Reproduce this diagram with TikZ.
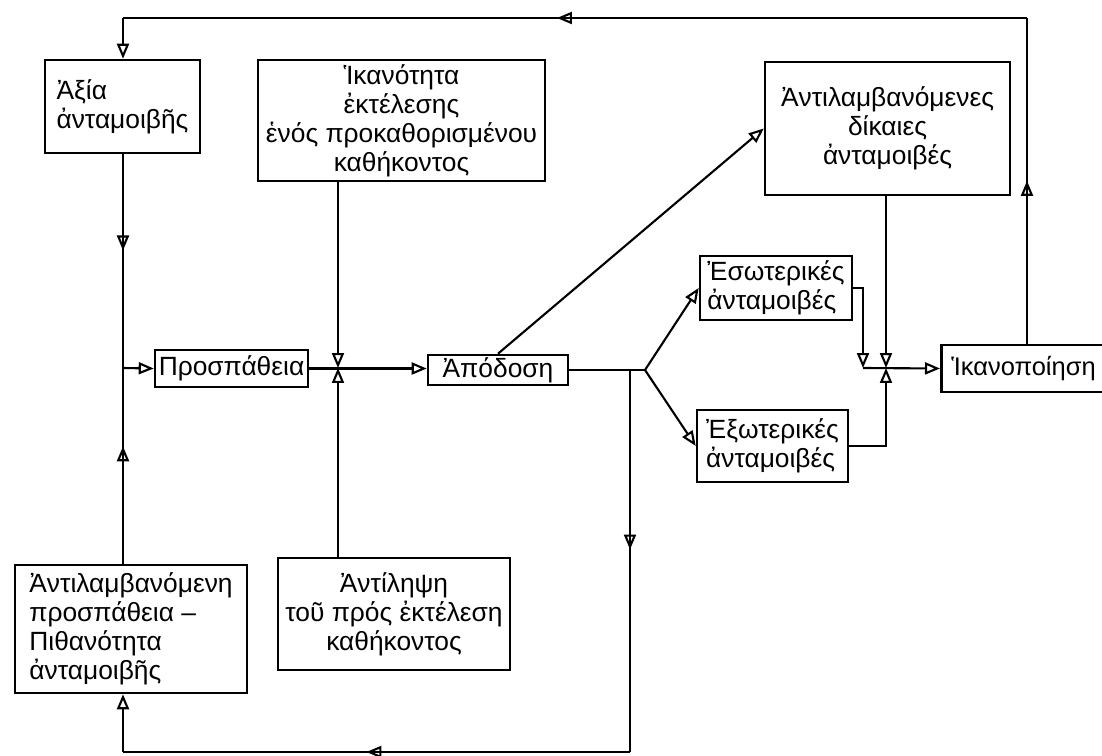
\documentclass[tikz,border=0pt]{standalone}
\usepackage{fontspec}
\setmainfont{Liberation Sans}
\usetikzlibrary{arrows.meta,decorations.markings}

\begin{document}
\begin{tikzpicture}[
		x=0.02cm, y=-0.02cm,
		every node/.style={rectangle, draw, line width=1.5pt, inner sep=0pt,
			font=\fontsize{15}{16.5}\selectfont},
		link/.style={line width=1.2pt},
		flow/.style={line width=1.2pt, -{Triangle[open, length=3mm, width=2.4mm]}},
		midtip/.style={postaction={decorate}, decoration={markings,
			mark=at position #1 with {\arrow{Triangle[open, length=3mm, width=2.4mm]}}}}
	]
  \useasboundingbox (0,0) rectangle (1102,756);
  \node (axia) [minimum width=3.1cm, minimum height=1.86cm, align=left] at (122.5,106.5) {Ἀξία\\ἀνταμοιβῆς};
  \node (ikan) [minimum width=5.74cm, minimum height=2.42cm, align=center] at (401.5,120.5) {Ἱκανότητα\\ἐκτέλεσης\\ἑνός προκαθορισμένου\\καθήκοντος};
  \node (dik) [minimum width=4.9cm, minimum height=2.66cm, align=center] at (887.5,128.5) {Ἀντιλαμβανόμενες\\δίκαιες\\ἀνταμοιβές};
  \node (prosp) [minimum width=3.06cm, minimum height=0.74cm] at (231.5,368.5) {Προσπάθεια};
  \node (apod) [minimum width=2.8cm, minimum height=0.6cm] at (498,370) {Ἀπόδοση};
  \node (eso) [minimum width=3.04cm, minimum height=1.28cm, align=left] at (776,288) {Ἐσωτερικές\\ἀνταμοιβές};
  \node (exo) [minimum width=3.02cm, minimum height=1.44cm, align=left] at (772.5,446) {Ἐξωτερικές\\ἀνταμοιβές};
  \node (ikanop) [anchor=west, minimum height=0.94cm, text width=3.8cm, inner xsep=0.2cm, align=left,
    font=\fontsize{14.5}{16}\selectfont] at (940,368.5) {Ἱκανοποίηση};
  \node (antil) [minimum width=4.64cm, minimum height=2.56cm, align=left] at (131,629) {Ἀντιλαμβανόμενη\\προσπάθεια –\\Πιθανότητα\\ἀνταμοιβῆς};
  \node (antilip) [minimum width=4.64cm, minimum height=2.24cm, align=center] at (394,614) {Ἀντίληψη\\τοῦ πρός ἐκτέλεση\\καθήκοντος};
  \coordinate (tl) at (123,18);
  \coordinate (tr) at (1027,18);
  \coordinate (lj) at (123,368);
  \coordinate (cj) at (338,368);
  \coordinate (br) at (645,370);
  \coordinate (dn) at (630,370);
  \coordinate (bl) at (123,752);
  \coordinate (bd) at (630,752);
  \coordinate (ej) at (863,368);
  \coordinate (rj) at (886,368);
  \draw[link, midtip=0.5] (ikanop.north -| tr) -- (tr);
  \draw[link, midtip=0.52] (tr) -- (tl);
  \draw[flow] (tl) -- (axia.north -| tl);
  \draw[link, midtip=0.45] (axia.south -| lj) -- (lj);
  \draw[link, midtip=0.6] (antil.north -| lj) -- (lj);
  \draw[flow] (lj) -- (prosp.west);
  \draw[flow] (prosp.east) -- (prosp.east -| apod.west);
  \draw[flow] (ikan.south -| cj) -- (cj);
  \draw[flow] (antilip.north -| cj) -- (cj);
  \draw[flow] (apod.north) -- (dik.west);
  \draw[link] (apod.east) -- (br);
  \draw[flow] (br) -- (eso.west);
  \draw[flow] (br) -- (exo.west);
  \draw[link, midtip=0.47] (dn) -- (bd);
  \draw[link, midtip=0.52] (bd) -- (bl);
  \draw[flow] (bl) -- (antil.south -| bl);
  \draw[flow] (eso.east) -| (ej);
  \draw[flow] (exo.east) -| (rj);
  \draw[flow] (dik.south -| rj) -- (rj);
  \draw[flow] (ej) -- (ikanop.west);
\end{tikzpicture}
\end{document}
